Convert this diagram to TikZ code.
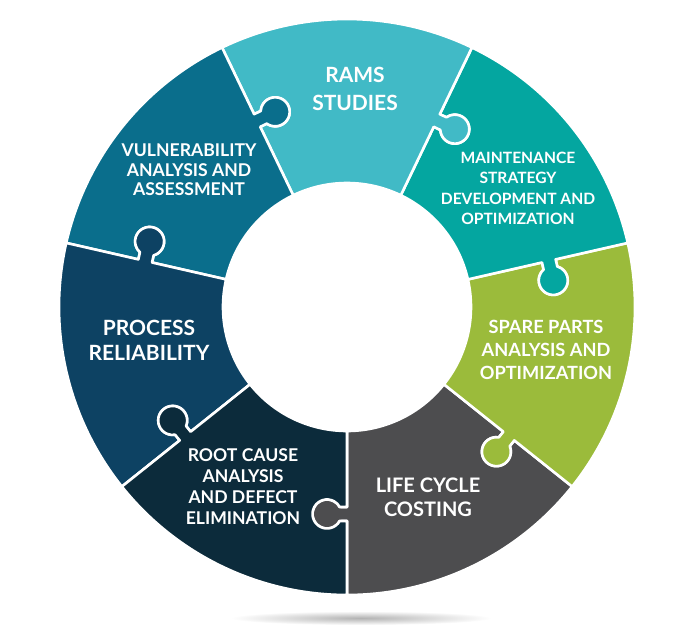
\documentclass[tikz,border=0pt]{standalone}
\usepackage{fontspec}
\setmainfont{Lato}
\definecolor{ramsc}{HTML}{41BAC6}
\definecolor{vulnc}{HTML}{0A6E8C}
\definecolor{maintc}{HTML}{04A6A0}
\definecolor{sparec}{HTML}{9BBB3B}
\definecolor{lifec}{HTML}{4D4D4F}
\definecolor{rootc}{HTML}{0C2B3B}
\definecolor{procc}{HTML}{0D4263}
\begin{document}
\begin{tikzpicture}[x=1pt,y=1pt,
  lbl/.style={text=white,align=center,inner sep=0pt,font=\bfseries}]
  \useasboundingbox[fill=white] (-347,-335) rectangle (343,307);
  % floor shadow
  \shade[inner color=gray!60,outer color=white] (14,-311) ellipse [x radius=130,y radius=7];
  % puzzle ring, one piece per step
  \foreach \a/\c in {-90/lifec,-38.571/sparec,12.857/maintc,64.286/ramsc,115.714/vulnc,167.143/procc,218.571/rootc}{
    \pgfmathsetmacro\b{\a+360/7}
    \filldraw[fill=\c,draw=white,line width=2.6,line join=round]
      {[rotate=\a] (124,0) -- (200,0) -- (200,-7.3) arc[start angle=119,end angle=421,radius=14.5] -- (214,0) -- (288,0)}
      arc[start angle=\a,end angle=\b,radius=288]
      {[rotate=\b] -- (214,0) -- (214,-7.3) arc[start angle=421,end angle=119,radius=14.5] -- (200,0) -- (124,0)}
      arc[start angle=\b,end angle=\a,radius=124] -- cycle;
  }
  \node[lbl,font=\bfseries\fontsize{21}{28}\selectfont] (rams) at (8,218) {RAMS\\STUDIES};
  \node[lbl,font=\bfseries\fontsize{17.6}{19.5}\selectfont] (vuln) at (-158,137) {VULNERABILITY\\ANALYSIS AND\\ASSESSMENT};
  \node[lbl,font=\bfseries\fontsize{15.6}{20.5}\selectfont] (maint) at (171,118.5) {MAINTENANCE\\STRATEGY\\DEVELOPMENT AND\\OPTIMIZATION};
  \node[lbl,font=\bfseries\fontsize{18.2}{23}\selectfont] (spare) at (199,-43) {SPARE PARTS\\ANALYSIS AND\\OPTIMIZATION};
  \node[lbl,font=\bfseries\fontsize{20}{24}\selectfont] (life) at (81,-190) {LIFE CYCLE\\COSTING};
  \node[lbl,font=\bfseries\fontsize{17.6}{21}\selectfont] (root) at (-104,-179.5) {ROOT CAUSE\\ANALYSIS\\AND DEFECT\\ELIMINATION};
  \node[lbl,font=\bfseries\fontsize{21}{25}\selectfont] (proc) at (-198,-33.5) {PROCESS\\RELIABILITY};
\end{tikzpicture}
\end{document}
